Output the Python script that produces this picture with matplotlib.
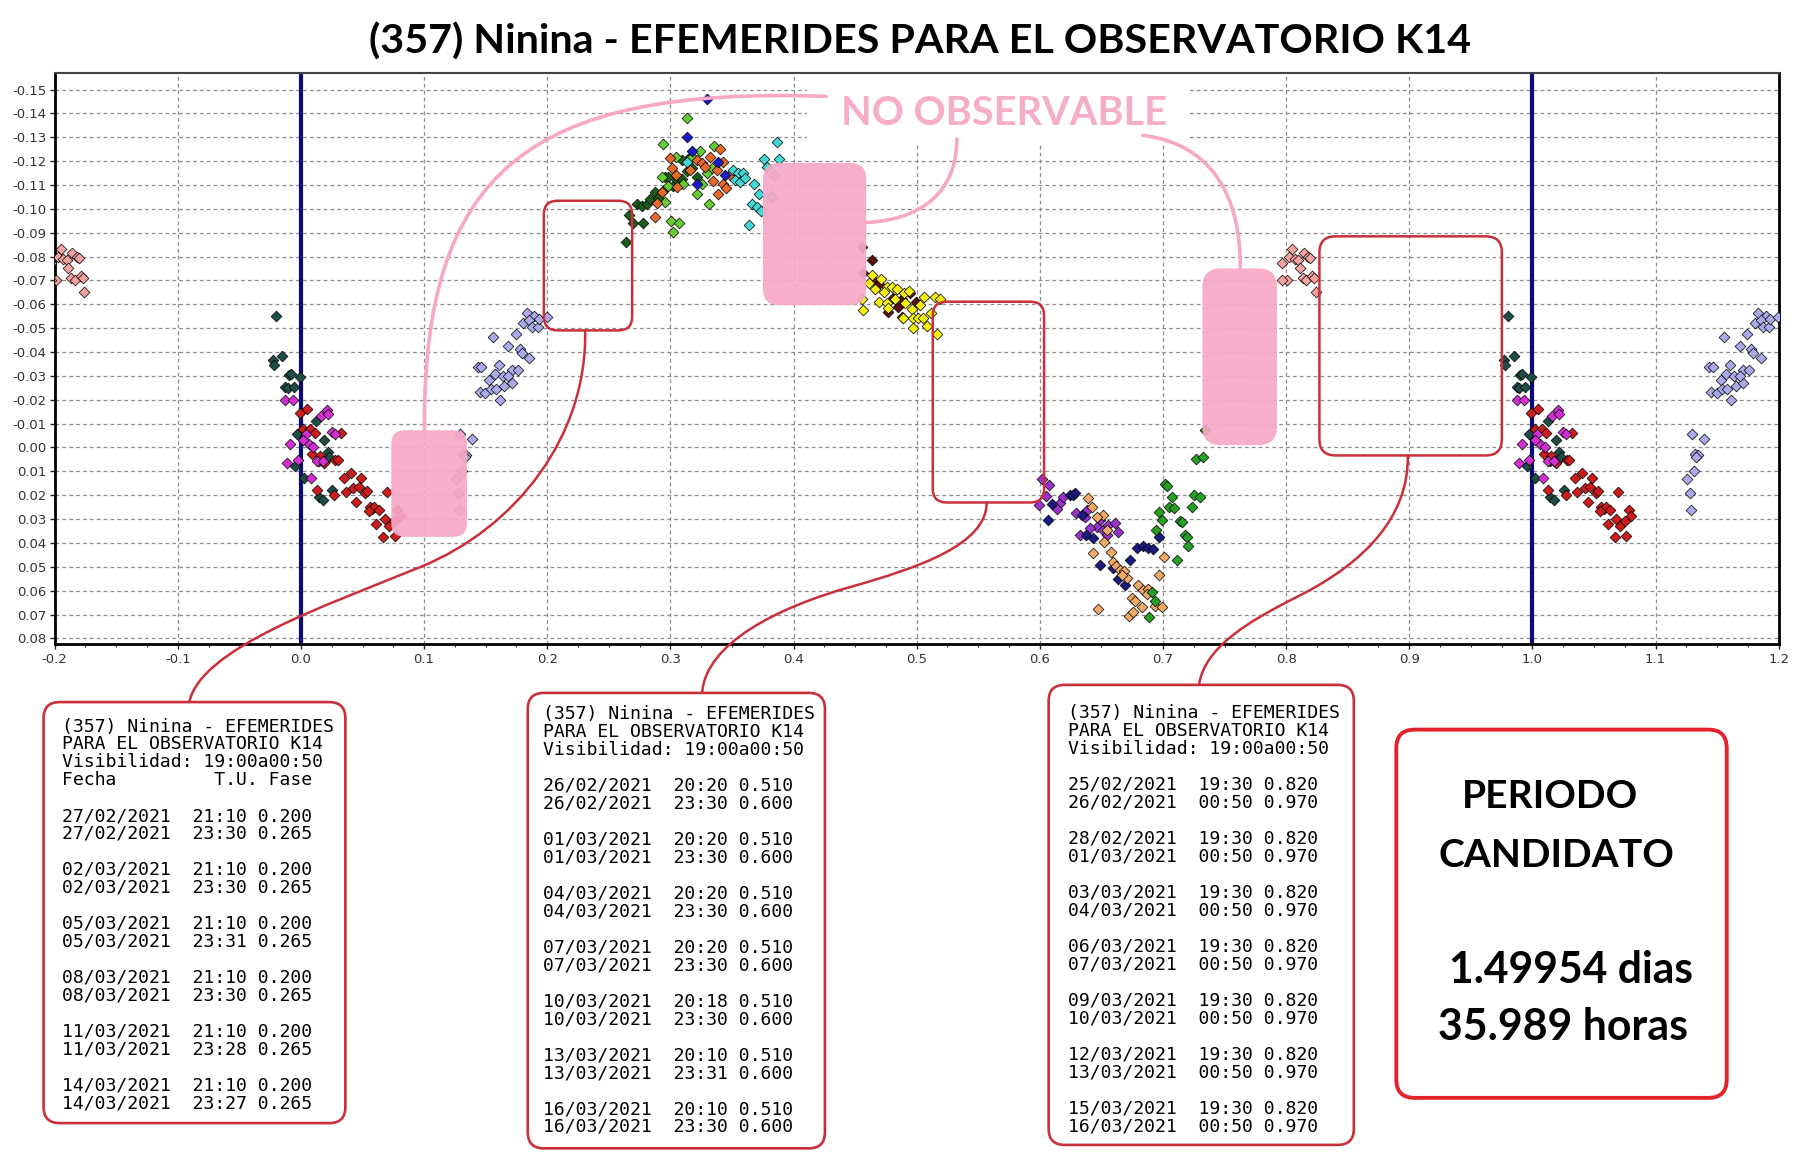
import numpy as np
import matplotlib.pyplot as plt
from matplotlib.patches import FancyBboxPatch, PathPatch, Rectangle
from matplotlib.path import Path
from matplotlib.ticker import MultipleLocator

# phase / magnitude, one pair of lists per colour
salmon_x = [0.805, 0.8025, 0.807, 0.810, 0.8143, 0.818, 0.8196, 0.8112, 0.8134, 0.8165,
            0.8211, 0.8227, 0.8242, 0.801, 0.797, 0.797]
salmon_y = [-0.0831, -0.0800, -0.0789, -0.0786, -0.0814, -0.0800, -0.0792, -0.0751, -0.0709, -0.0702,
            -0.0719, -0.0709, -0.0653, -0.0702, -0.0772, -0.0702]

dkteal_x = [-0.0199, -0.023, -0.022, -0.0152, -0.0097, -0.0081, -0.0127, -0.0106, -0.0059, 0.0124,
            -0.003, 0.019, 0.0217, 0.023, 0.0146, -0.0047, 0.0022, 0.0255, 0.0146, 0.0177, -0.0009]
dkteal_y = [-0.0552, -0.0366, -0.0345, -0.0383, -0.0303, -0.0310, -0.0255, -0.0248, -0.0255, -0.0110,
            -0.0057, -0.0032, 0.0020, 0.0040, 0.0055, 0.0076, 0.0129, 0.0178, 0.0208, 0.0220, -0.0297]

red_x = [0.0047, -0.001, 0.002, 0.0075, 0.011, 0.0323, 0.0093, 0.0155, 0.019, 0.028,
         0.0348, 0.0404, 0.0488, 0.013, 0.0363, 0.027, 0.0425, 0.047, 0.052, 0.0534,
         0.045, 0.056, 0.058, 0.0596, 0.055, 0.0634, 0.0696, 0.0783, 0.0804, 0.0683,
         0.061, 0.0714, 0.0668, 0.0761, 0.0753, 0.030]
red_y = [-0.0160, -0.0145, -0.0078, -0.0078, -0.0060, -0.0060, 0.0027, 0.0034, 0.0066, 0.0052,
         0.0129, 0.0108, 0.0129, 0.0178, 0.0185, 0.0199, 0.0169, 0.0164, 0.0192, 0.0183,
         0.0229, 0.0250, 0.0257, 0.0248, 0.0267, 0.0264, 0.0187, 0.0262, 0.0288, 0.0300,
         0.0320, 0.0331, 0.0376, 0.0372, 0.0307, 0.0052]

magenta_x = [-0.0127, -0.0065, 0.0208, 0.0161, 0.0217, 0.0248, 0.0276, -0.0087, 0.0037, 0.0062,
             0.0099, 0.002, -0.0112, -0.0025, 0.013, 0.0177, 0.0084]
magenta_y = [-0.0201, -0.0201, -0.0158, -0.0134, -0.0141, -0.0064, -0.0057, -0.0013, -0.0057, -0.0013,
             -0.0001, -0.0030, 0.0066, 0.0052, 0.0055, 0.0055, 0.0129]

lavender_x = [0.1295, 0.139, 0.1317, 0.1344, 0.1331, 0.1310, 0.1255, 0.1276, 0.1284, 0.1559,
              0.1435, 0.1466, 0.1606, 0.1528, 0.1575, 0.1637, 0.1683, 0.1745, 0.1714, 0.176,
              0.1776, 0.1792, 0.1854, 0.145, 0.1497, 0.1543, 0.1584, 0.1652, 0.1714, 0.1615,
              0.1683, 0.1832, 0.1894, 0.1807, 0.1854, 0.1876, 0.1925, 0.1932, 0.1997]
lavender_y = [-0.0057, -0.0036, 0.0026, 0.0030, 0.0040, 0.0097, 0.0130, 0.0189, 0.0262, -0.0464,
              -0.0336, -0.0336, -0.0345, -0.0283, -0.0310, -0.0299, -0.0425, -0.0476, -0.0324, -0.0324,
              -0.0411, -0.0397, -0.0376, -0.0234, -0.0227, -0.0243, -0.0243, -0.0257, -0.0271, -0.0201,
              -0.0299, -0.0562, -0.0551, -0.0520, -0.0534, -0.0506, -0.0506, -0.0540, -0.0545]

dkgreen_x = [0.264, 0.2665, 0.270, 0.2781, 0.2732, 0.2766, 0.2807, 0.2834, 0.2875, 0.2902,
             0.2943, 0.2957, 0.2984, 0.3024, 0.3051, 0.3091, 0.3132, 0.3173, 0.3214, 0.3159, 0.3091]
dkgreen_y = [-0.0863, -0.0974, -0.0942, -0.0942, -0.1021, -0.1012, -0.1021, -0.1040, -0.1072, -0.1044,
             -0.1076, -0.1132, -0.1132, -0.1096, -0.1121, -0.1124, -0.1160, -0.1170, -0.1132, -0.1219, -0.1205]

ltgreen_x = [0.3132, 0.2943, 0.3240, 0.3354, 0.3046, 0.3173, 0.2930, 0.2984, 0.3105, 0.3254,
             0.3295, 0.3335, 0.3218, 0.2957, 0.3316, 0.3002, 0.3073, 0.3024]
ltgreen_y = [-0.1379, -0.1272, -0.1244, -0.1263, -0.1219, -0.1219, -0.1132, -0.1096, -0.1104, -0.1104,
             -0.1149, -0.1170, -0.1062, -0.1030, -0.1022, -0.0951, -0.0942, -0.0905]

orange_x = [0.3000, 0.3011, 0.3046, 0.3214, 0.3254, 0.3281, 0.3322, 0.3403, 0.3431, 0.3349,
            0.3431, 0.3452, 0.3390, 0.2930, 0.2889, 0.2875, 0.3051, 0.3484, 0.3376, 0.3159]
orange_y = [-0.1212, -0.1170, -0.1142, -0.1205, -0.1191, -0.1174, -0.1216, -0.1250, -0.1198, -0.1118,
            -0.1104, -0.1086, -0.1062, -0.1072, -0.1026, -0.0967, -0.1093, -0.1142, -0.1163, -0.1163]

blue_x = [0.3295, 0.3132, 0.3173, 0.3214, 0.3390, 0.3445]
blue_y = [-0.1459, -0.1302, -0.1244, -0.1104, -0.1198, -0.1142]

cyan_x = [0.3863, 0.3763, 0.3885, 0.3782, 0.3844, 0.3506, 0.3552, 0.3593, 0.3525, 0.3566,
          0.3607, 0.3680, 0.3723, 0.3823, 0.3660, 0.3701, 0.3734, 0.3641, 0.3132]
cyan_y = [-0.1281, -0.1210, -0.1210, -0.1174, -0.1142, -0.1163, -0.1149, -0.1149, -0.1121, -0.1114,
          -0.1128, -0.1104, -0.1062, -0.1051, -0.1021, -0.1007, -0.0993, -0.0932, -0.1198]

maroon_x = [0.4554, 0.4636, 0.4568, 0.4663, 0.4690, 0.4811, 0.4852, 0.4879, 0.4947, 0.4995, 0.4771, 0.4879]
maroon_y = [-0.0841, -0.0785, -0.0732, -0.0694, -0.0684, -0.0625, -0.0590, -0.0621, -0.0646, -0.0611,
            -0.0569, -0.0548]

yellow_x = [0.4636, 0.4712, 0.4609, 0.4757, 0.4798, 0.4663, 0.4731, 0.4839, 0.4893, 0.4941,
            0.4825, 0.4690, 0.4757, 0.4907, 0.5029, 0.5056, 0.5149, 0.5190, 0.4961, 0.5114,
            0.4568, 0.4771, 0.4885, 0.4974, 0.5009, 0.5050, 0.5083, 0.4968, 0.5163, 0.4554]
yellow_y = [-0.0722, -0.0708, -0.0691, -0.0674, -0.0674, -0.0663, -0.0653, -0.0663, -0.0646, -0.0657,
            -0.0621, -0.0611, -0.0607, -0.0607, -0.0597, -0.0629, -0.0632, -0.0621, -0.0579, -0.0562,
            -0.0576, -0.0583, -0.0541, -0.0541, -0.0541, -0.0541, -0.0509, -0.0500, -0.0476, -0.0621]

purple_x = [0.6016, 0.6071, 0.6051, 0.5992, 0.6163, 0.6137, 0.6190, 0.6295, 0.6381, 0.6489,
            0.6462, 0.6516, 0.6557, 0.6611, 0.6638, 0.6543, 0.6327, 0.6408, 0.6368]
purple_y = [0.0133, 0.0158, 0.0202, 0.0241, 0.0233, 0.0259, 0.0206, 0.0275, 0.0260, 0.0304,
            0.0332, 0.0346, 0.0325, 0.0318, 0.0353, 0.0367, 0.0367, 0.0339, 0.0290]

navy_x = [0.6097, 0.6070, 0.6245, 0.6272, 0.6286, 0.6341, 0.6435, 0.6376, 0.6489, 0.6597,
          0.6732, 0.6638, 0.6692, 0.6787, 0.6841, 0.6882, 0.6922, 0.6971]
navy_y = [0.0236, 0.0304, 0.0199, 0.0199, 0.0192, 0.0283, 0.0381, 0.0367, 0.0492, 0.0506,
          0.0471, 0.0553, 0.0577, 0.0422, 0.0412, 0.0422, 0.0426, 0.0374]

tan_x = [0.6395, 0.6422, 0.6516, 0.6462, 0.6435, 0.6576, 0.6597, 0.6619, 0.6652, 0.6684,
         0.6706, 0.6665, 0.6801, 0.6841, 0.6882, 0.6868, 0.6746, 0.6773, 0.6828, 0.6476,
         0.6727, 0.6760, 0.6936, 0.6990, 0.6971, 0.7009, 0.6543, 0.6521]
tan_y = [0.0213, 0.0248, 0.0283, 0.0293, 0.0443, 0.0436, 0.0478, 0.0496, 0.0513, 0.0516,
         0.0548, 0.0534, 0.0577, 0.0598, 0.0595, 0.0612, 0.0632, 0.0642, 0.0667, 0.0678,
         0.0706, 0.0688, 0.0664, 0.0667, 0.0534, 0.0457, 0.0346, 0.0395]

green_x = [0.7018, 0.7031, 0.7071, 0.7052, 0.7090, 0.6971, 0.6990, 0.7139, 0.7152, 0.7252,
           0.7301, 0.7233, 0.6947, 0.7179, 0.7193, 0.7206, 0.7111, 0.6909, 0.6936, 0.6890,
           0.7268, 0.7328, 0.7342]
green_y = [0.0151, 0.0162, 0.0206, 0.0248, 0.0255, 0.0269, 0.0304, 0.0308, 0.0311, 0.0199,
           0.0206, 0.0248, 0.0346, 0.0367, 0.0374, 0.0412, 0.0471, 0.0604, 0.0642, 0.0712,
           0.0049, 0.0038, -0.0073]

groups = [
    (salmon_x, salmon_y, '#f2a3a0'), (dkteal_x, dkteal_y, '#1e4d46'),
    (red_x, red_y, '#cc1c1c'), (magenta_x, magenta_y, '#d22fd2'),
    (lavender_x, lavender_y, '#aaaaea'), (dkgreen_x, dkgreen_y, '#1b5c1b'),
    (ltgreen_x, ltgreen_y, '#66cc33'), (orange_x, orange_y, '#e8682a'),
    (blue_x, blue_y, '#1a1acc'), (cyan_x, cyan_y, '#44d6d6'),
    (maroon_x, maroon_y, '#5c0f0f'), (yellow_x, yellow_y, '#f2ee10'),
    (purple_x, purple_y, '#9933cc'), (navy_x, navy_y, '#1a1a80'),
    (tan_x, tan_y, '#f0a866'), (green_x, green_y, '#24a024'),
]

title = '(357) Ninina - EFEMERIDES PARA EL OBSERVATORIO K14'

head = ['(357) Ninina - EFEMERIDES', 'PARA EL OBSERVATORIO K14', 'Visibilidad: 19:00a00:50']
rows1 = [('27/02/2021', '21:10', '0.200'), ('27/02/2021', '23:30', '0.265'),
         ('02/03/2021', '21:10', '0.200'), ('02/03/2021', '23:30', '0.265'),
         ('05/03/2021', '21:10', '0.200'), ('05/03/2021', '23:31', '0.265'),
         ('08/03/2021', '21:10', '0.200'), ('08/03/2021', '23:30', '0.265'),
         ('11/03/2021', '21:10', '0.200'), ('11/03/2021', '23:28', '0.265'),
         ('14/03/2021', '21:10', '0.200'), ('14/03/2021', '23:27', '0.265')]
rows2 = [('26/02/2021', '20:20', '0.510'), ('26/02/2021', '23:30', '0.600'),
         ('01/03/2021', '20:20', '0.510'), ('01/03/2021', '23:30', '0.600'),
         ('04/03/2021', '20:20', '0.510'), ('04/03/2021', '23:30', '0.600'),
         ('07/03/2021', '20:20', '0.510'), ('07/03/2021', '23:30', '0.600'),
         ('10/03/2021', '20:18', '0.510'), ('10/03/2021', '23:30', '0.600'),
         ('13/03/2021', '20:10', '0.510'), ('13/03/2021', '23:31', '0.600'),
         ('16/03/2021', '20:10', '0.510'), ('16/03/2021', '23:30', '0.600')]
rows3 = [('25/02/2021', '19:30', '0.820'), ('26/02/2021', '00:50', '0.970'),
         ('28/02/2021', '19:30', '0.820'), ('01/03/2021', '00:50', '0.970'),
         ('03/03/2021', '19:30', '0.820'), ('04/03/2021', '00:50', '0.970'),
         ('06/03/2021', '19:30', '0.820'), ('07/03/2021', '00:50', '0.970'),
         ('09/03/2021', '19:30', '0.820'), ('10/03/2021', '00:50', '0.970'),
         ('12/03/2021', '19:30', '0.820'), ('13/03/2021', '00:50', '0.970'),
         ('15/03/2021', '19:30', '0.820'), ('16/03/2021', '00:50', '0.970')]

PINK = '#f7a8c6'
RED = '#c9303a'

fig = plt.figure(figsize=(17.99, 11.69), dpi=100)
ax = fig.add_axes([0.0304, 0.4488, 0.9583, 0.4885])
ax.set_xlim(-0.2, 1.2)
ax.set_ylim(0.0825, -0.1568)

xt = np.arange(-2, 13) / 10
yt = np.arange(-15, 9) / 100
ax.set_xticks(xt)
ax.set_xticklabels([f'{v:.1f}' for v in xt])
ax.set_yticks(yt)
ax.set_yticklabels([f'{v:.2f}' for v in yt])
ax.xaxis.set_minor_locator(MultipleLocator(0.025))
ax.tick_params(which='major', length=3.5, width=1, colors='#222222', labelcolor='#333333',
               labelsize=9.5, pad=2.5)
ax.tick_params(which='minor', length=2.5, width=0.8, colors='#222222')
ax.grid(True, which='major', color='#8c8c8c', linestyle=(0, (3, 2.5)), linewidth=0.9)
ax.set_axisbelow(True)
for side in ['left', 'bottom', 'right']:
    ax.spines[side].set_linewidth(2)
    ax.spines[side].set_color('black')
ax.spines['top'].set_linewidth(1.5)
ax.spines['top'].set_color('#444444')

ax.axvline(0.0, color='#0c0c78', lw=3, zorder=2.5)
ax.axvline(1.0, color='#0c0c78', lw=3, zorder=2.5)

for xs, ys, col in groups:
    xs = np.asarray(xs)
    for off in (-1, 0, 1):
        ax.scatter(xs + off, ys, marker='D', s=30, c=col, edgecolors='black',
                   linewidths=0.5, zorder=3)

# overlay in reference-image pixel units (1568 x 1019)
ov = fig.add_axes([0, 0, 1, 1], zorder=5)
ov.set_xlim(0, 1568)
ov.set_ylim(1019, 0)
ov.axis('off')
renderer = fig.canvas.get_renderer()
S = 1799 / 1568


def fit(t, width):
    w = t.get_window_extent(renderer=renderer).width
    t.set_fontsize(t.get_fontsize() * width * S / w)


def rbox(x0, y0, x1, y1, r, **kw):
    ov.add_patch(FancyBboxPatch((x0, y0), x1 - x0, y1 - y0,
                                boxstyle=f'round,pad=0,rounding_size={r}', **kw))


def curve(pts, color, lw):
    codes = [Path.MOVETO] + [Path.CURVE4] * (len(pts) - 1)
    ov.add_patch(PathPatch(Path(pts, codes), fill=False, edgecolor=color, lw=lw,
                           capstyle='round'))


t = ov.text(802, 46.5, title, ha='center', va='baseline', fontsize=30,
            fontfamily='Lato', fontweight='bold', color='black')
fit(t, 960)

# white patch behind the label
ov.add_patch(Rectangle((703, 66.5), 332, 59, color='white', lw=0))

# pink "not observable" zones and their connectors
rbox(341, 375, 407, 468, 12, facecolor=PINK, edgecolor='none', alpha=0.93)
rbox(665, 142, 755, 266, 14, facecolor=PINK, edgecolor='none', alpha=0.93)
rbox(1048, 234, 1113, 388, 16, facecolor=PINK, edgecolor='none', alpha=0.93)
curve([(370, 376), (368, 150), (460, 75), (720, 84)], PINK, 2.6)
curve([(754, 194), (800, 192), (834, 170), (834, 121)], PINK, 2.6)
curve([(1081, 235), (1082, 170), (1055, 125), (996, 118)], PINK, 2.6)
t = ov.text(875, 109, 'NO OBSERVABLE', ha='center', va='baseline', fontsize=24,
            fontfamily='Lato', fontweight='bold', color='#f6aec8')
fit(t, 284)

# red windows on the light curve
rbox(474, 175, 551, 288, 12, facecolor='none', edgecolor=RED, lw=1.8)
rbox(813, 263, 910, 438, 12, facecolor='none', edgecolor=RED, lw=1.8)
rbox(1150, 206, 1309, 397, 14, facecolor='none', edgecolor=RED, lw=1.8)
curve([(510, 288), (512, 380), (450, 460), (367, 494),
       (284, 528), (175, 565), (165, 612)], RED, 1.8)
curve([(860, 438), (860, 475), (800, 495), (740, 512),
       (680, 529), (615, 560), (612, 604)], RED, 1.8)
curve([(1227, 397), (1228, 450), (1190, 490), (1133, 519),
       (1085, 543), (1050, 565), (1045, 597)], RED, 1.8)

# ephemeris boxes
rbox(38, 612, 301, 979, 14, facecolor='white', edgecolor=RED, lw=1.9)
rbox(460, 604, 719, 1001, 14, facecolor='white', edgecolor=RED, lw=1.9)
rbox(914, 597, 1180, 998, 14, facecolor='white', edgecolor=RED, lw=1.9)

mono = dict(fontfamily='DejaVu Sans Mono', fontsize=13.1, color='black', va='baseline', ha='left')


def ephem(x, y0, rows, fecha):
    lines = head + (['Fecha         T.U. Fase'] if fecha else [])
    for i, s in enumerate(lines):
        ov.text(x, y0 + i * 15.6, s, **mono)
    ys = y0 + len(lines) * 15.6 + 15.6
    for k, (d, h, f) in enumerate(rows):
        ov.text(x, ys + (k // 2) * 47 + (k % 2) * 15.6, f'{d}  {h} {f}', **mono)


ephem(53.8, 637.7, rows1, True)
ephem(473.6, 626.7, rows2, False)
ephem(931.2, 626.0, rows3, False)

# candidate period box
rbox(1217, 636, 1505, 957, 16, facecolor='white', edgecolor='#e3232b', lw=2.8)
big = dict(fontfamily='Lato', fontweight='bold', color='black', va='baseline', ha='left', fontsize=28)
for s, x, y, w in [('PERIODO', 1274, 704.6, 154), ('CANDIDATO', 1253.6, 755.4, 206),
                   ('1.49954 dias', 1263.2, 857, 213), ('35.989 horas', 1253.6, 906.5, 218)]:
    t = ov.text(x, y, s, **big)
    fit(t, w)

fig.savefig('out.png', dpi=100)
